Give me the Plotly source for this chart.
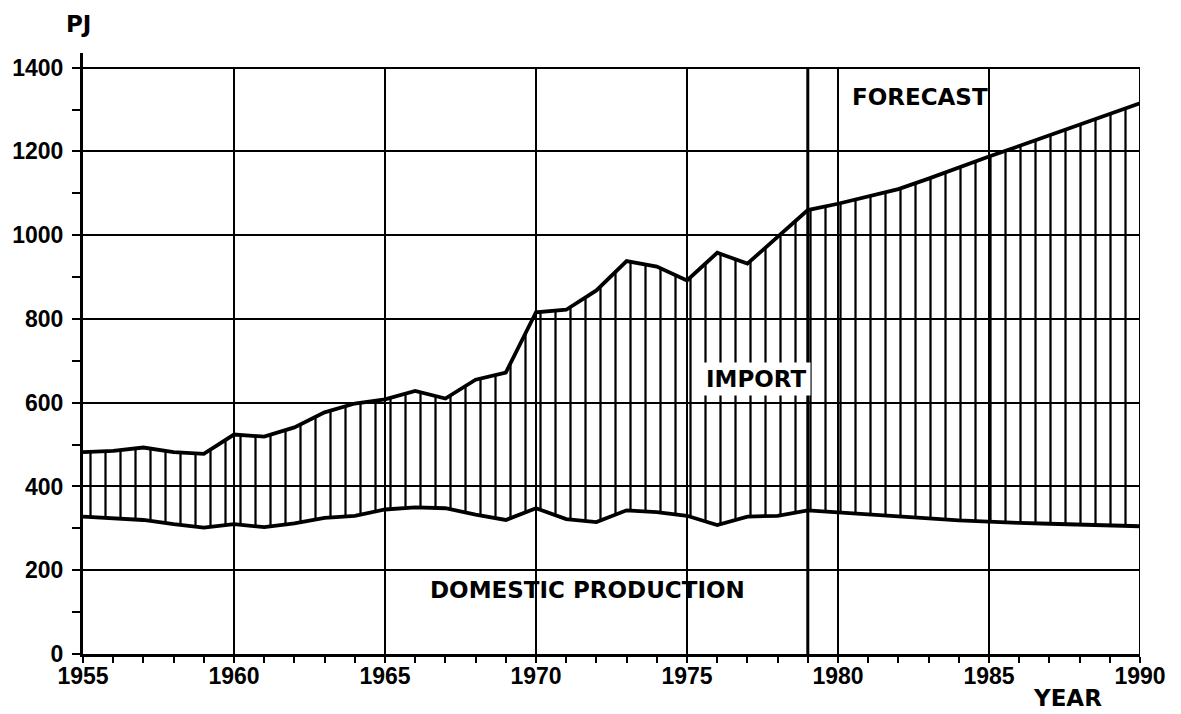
import plotly.graph_objects as go

# ---- data (PJ) ----
years = list(range(1955, 1991))
total_supply = [482, 485, 493, 482, 478, 524, 519, 541, 577, 598,
                608, 628, 610, 655, 672, 816, 822, 868, 938, 925,
                892, 958, 932, 995, 1060, 1075, 1092, 1110, 1135, 1162,
                1188, 1213, 1238, 1263, 1288, 1315]
domestic_production = [328, 325, 320, 310, 302, 310, 303, 312, 325, 330,
                       345, 350, 348, 333, 320, 348, 322, 315, 343, 339,
                       330, 308, 328, 330, 343, 338, 334, 329, 324, 319,
                       315, 313, 311, 309, 307, 305]
x_ticks = [1955, 1960, 1965, 1970, 1975, 1980, 1985, 1990]
y_ticks = [0, 200, 400, 600, 800, 1000, 1200, 1400]
forecast_start = 1979

TICK_FONT = dict(family="Liberation Sans", size=23, color="black", weight="bold")
LABEL_FONT = dict(family="DejaVu Sans", size=23, color="black", weight="bold")

fig = go.Figure()
fig.add_trace(go.Scatter(
    x=years, y=domestic_production, mode="lines",
    line=dict(color="black", width=3.8), hoverinfo="skip", showlegend=False))
fig.add_trace(go.Scatter(
    x=years, y=total_supply, mode="lines", fill="tonexty",
    fillcolor="rgba(0,0,0,0)",
    fillpattern=dict(shape="|", size=15, solidity=0.15, fillmode="replace",
                     fgcolor="black", fgopacity=1, bgcolor="rgba(0,0,0,0)"),
    line=dict(color="black", width=3.8), hoverinfo="skip", showlegend=False))

# vertical grid lines (5-year) and right border, up to 1400
for xv in x_ticks[1:]:
    fig.add_shape(type="line", xref="x", yref="y", x0=xv, x1=xv,
                  y0=0, y1=y_ticks[-1], line=dict(color="black", width=2),
                  layer="below")
# forecast boundary
fig.add_shape(type="line", xref="x", yref="y", x0=forecast_start, x1=forecast_start,
              y0=0, y1=y_ticks[-1], line=dict(color="black", width=3), layer="below")

fig.update_xaxes(
    range=[1955, 1990], tickvals=x_ticks, ticktext=[str(v) for v in x_ticks],
    showgrid=False, zeroline=False, showline=True, linecolor="black", linewidth=3,
    ticks="outside", ticklen=6, tickwidth=2, tickcolor="black",
    tickfont=TICK_FONT, ticklabelstandoff=-7, automargin=False,
    minor=dict(dtick=1, tick0=1955, ticks="outside", ticklen=6, tickwidth=2,
               tickcolor="black", showgrid=False))
fig.update_yaxes(
    range=[0, 1435], tickvals=y_ticks, ticktext=[str(v) for v in y_ticks],
    showgrid=True, gridcolor="black", gridwidth=2, zeroline=False,
    showline=True, linecolor="black", linewidth=3,
    ticks="outside", ticklen=8, tickwidth=2, tickcolor="black",
    tickfont=TICK_FONT, ticklabelstandoff=4, automargin=False,
    minor=dict(dtick=100, tick0=0, ticks="outside", ticklen=8, tickwidth=2,
               tickcolor="black", showgrid=False))

fig.add_annotation(text="PJ", xref="paper", yref="paper", x=-0.0038, y=1.048,
                   xanchor="center", yanchor="middle",
                   showarrow=False, font=LABEL_FONT)
fig.add_annotation(text="YEAR", xref="paper", yref="paper", x=0.9314, y=-0.0724,
                   xanchor="center", yanchor="middle",
                   showarrow=False, font=LABEL_FONT)
fig.add_annotation(text="FORECAST", xref="x", yref="y", x=1982.7, y=1330,
                   showarrow=False, font=LABEL_FONT)
fig.add_annotation(text="IMPORT", xref="x", yref="y", x=1977.3, y=657,
                   showarrow=False, font=LABEL_FONT, bgcolor="white", borderpad=3)
fig.add_annotation(text="DOMESTIC PRODUCTION", xref="x", yref="y", x=1971.7, y=154,
                   showarrow=False, font=LABEL_FONT)

fig.update_layout(
    width=1181, height=714,
    margin=dict(l=75, r=49, t=45, b=68),
    paper_bgcolor="white", plot_bgcolor="white",
    showlegend=False)

fig.write_html("out.html")
